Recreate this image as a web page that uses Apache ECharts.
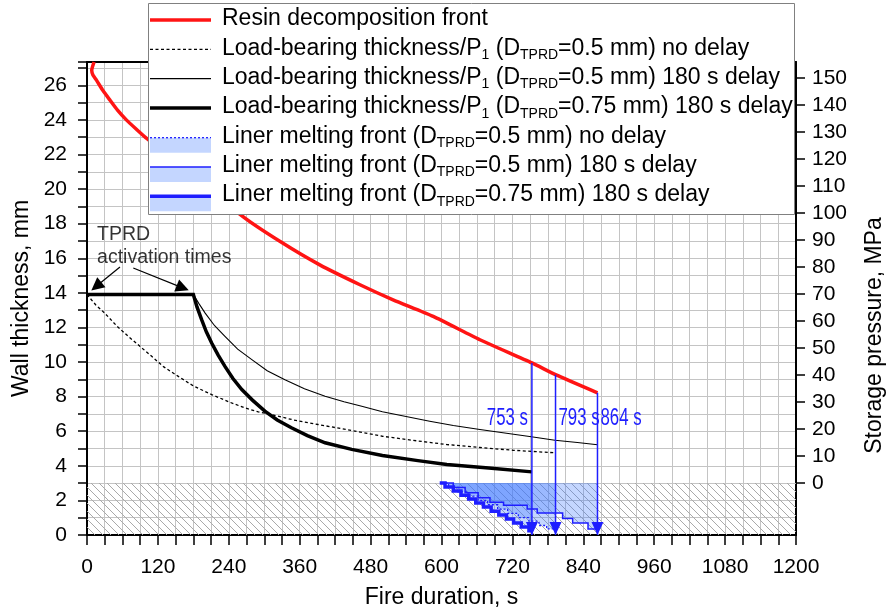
<!DOCTYPE html>
<html><head><meta charset="utf-8">
<script src="https://cdn.jsdelivr.net/npm/echarts@6/dist/echarts.min.js"></script>
<style>html,body{margin:0;padding:0;background:#fff}#c{width:891px;height:612px}</style>
</head><body><div id="c"></div>
<script>
// ---------------- data ----------------
const xLabelValues = [0,120,240,360,480,600,720,840,960,1080,1200];
const leftLabelValues = [0,2,4,6,8,10,12,14,16,18,20,22,24,26];
const rightLabelValues = [0,10,20,30,40,50,60,70,80,90,100,110,120,130,140,150];

const resinFront = [[12,27.35],[8,26.87],[10,26.6],[16,26.3],[27,25.7],[39,25.14],[52,24.55],[67,23.99],[84,23.45],[101,22.93],
  [264,18.41],[327,16.97],[394,15.62],[462,14.47],[518,13.6],[586,12.64],[665,11.29],[753,9.95],[793,9.27],[864,8.22]];

const lbNoDelay05 = [[0,13.9],[2,13.79],[15,13.3],[30,12.83],[50,12.1],[70,11.48],[90,10.9],[109.5,10.33],[130,9.72],[154.5,9.17],
  [180,8.62],[211,8.12],[240,7.7],[267,7.35],[290,7.12],[312.5,6.96],[350,6.65],[391,6.39],[450,6.03],[500,5.71],[550,5.48],
  [609,5.23],[665,5.06],[721,4.9],[760,4.82],[793,4.75]];

const lbDelay05 = [[0,13.9],[180,13.9],[190,13.35],[200,12.83],[216,12.1],[233.5,11.48],[255,10.75],[279,10.14],[305,9.5],[335,8.98],
  [368,8.45],[403,8.02],[435,7.7],[465,7.44],[500,7.13],[540,6.85],[580,6.58],[620,6.33],[665,6.1],[710,5.88],[752,5.68],
  [792,5.48],[830,5.35],[864,5.22]];

const lbDelay075 = [[0,13.9],[180,13.9],[186,13.2],[194,12.45],[202,11.75],[211,11.1],[222,10.4],[233.5,9.75],[247,9.05],[262,8.41],
  [280,7.8],[301,7.16],[322,6.65],[346,6.2],[373,5.75],[403,5.33],[448,4.95],[500,4.6],[560,4.3],[609,4.08],[680,3.88],[753,3.65]];

const linerNoDelay05 = [[600,3.0],[612,3.0],[612,2.75],[628,2.75],[628,2.5],[645,2.5],[645,2.25],[662,2.25],[662,2.0],[678,2.0],
  [678,1.75],[695,1.75],[695,1.5],[712,1.5],[712,1.25],[730,1.25],[730,1.0],[748,1.0],[748,0.8],[765,0.8],[765,0.55],
  [778,0.55],[778,0.35],[793,0.35]];

const linerDelay05 = [[600,3.0],[620,3.0],[620,2.75],[640,2.75],[640,2.45],[662,2.45],[662,2.15],[682,2.15],[682,1.9],[705,1.9],
  [705,1.72],[745,1.72],[745,1.5],[762,1.5],[762,1.27],[805,1.27],[805,0.95],[822,0.95],[822,0.7],[848,0.7],[848,0.35],[864,0.35]];

const linerDelay075 = [[597,3.0],[606,3.0],[606,2.78],[620,2.78],[620,2.55],[633,2.55],[633,2.3],[646,2.3],[646,2.08],[658,2.08],
  [658,1.85],[671,1.85],[671,1.62],[684,1.62],[684,1.38],[697,1.38],[697,1.15],[710,1.15],[710,0.92],[722,0.92],[722,0.69],
  [735,0.69],[735,0.46],[748,0.46],[748,0.25],[753,0.25]];

const failTimes = [753, 793, 864];
const failResinThickness = [9.95, 9.27, 8.22];

const hatchRange = [0, 3];         // wall thickness band (mm) that is hatched
const pressureZeroMM = 3;           // 0 MPa on the right axis corresponds to 3 mm
const mmPerMPa = 0.15607;

// annotation arrows (tail -> head) in data units
const tprdArrows = [[[55.8,15.5],[15.8,14.38]], [[78.3,15.44],[162,14.29]]];
const tprdTextAnchor = [17, 16.68];
const failLabelY = 6.72;

// ---------------- styles / layout ----------------
const FONT = 'Liberation Sans, Arial, sans-serif';
const Y_MAX = 27.35;
const BLUE = '#1e1eff';
const FILL = 'rgba(60,120,255,0.3)';

function hatchCanvas() {
  const c = document.createElement('canvas'); c.width = 8; c.height = 8;
  const g = c.getContext('2d');
  g.strokeStyle = '#a9a9a9'; g.lineWidth = 1;
  g.beginPath();
  g.moveTo(-2,-2); g.lineTo(10,10);
  g.moveTo(-2,6); g.lineTo(2,10);
  g.moveTo(6,-2); g.lineTo(10,2);
  g.stroke();
  return c;
}

function fillSeries(pts) {
  return {
    type: 'custom', coordinateSystem: 'cartesian2d', data: [pts[0]], clip: true, silent: true, z: 3,
    renderItem: function (params, api) {
      const last = pts[pts.length - 1];
      const poly = pts.concat([[last[0], hatchRange[1]]]).map(p => api.coord(p));
      return { type: 'polygon', shape: { points: poly }, style: { fill: FILL } };
    }
  };
}
function lineSeries(data, color, width, dash, z, smooth) {
  return { type: 'line', data: data, symbol: 'none', silent: true, z: z || 4, clip: true, smooth: smooth || false,
    lineStyle: { color: color, width: width, type: dash || 'solid', cap: 'butt', join: 'miter' } };
}

const series = [];
// hatched band + TPRD annotation
series.push({
  type: 'scatter', data: [tprdTextAnchor], symbolSize: 0, silent: true, z: 6,
  label: { show: true, position: 'right', distance: 0, formatter: 'TPRD\nactivation times',
    fontFamily: FONT, fontSize: 19.5, lineHeight: 23, color: '#000', align: 'left' },
  markArea: { silent: true, itemStyle: { color: { image: hatchCanvas(), repeat: 'repeat' }, opacity: 1, borderWidth: 0 },
    data: [[{ coord: [0, hatchRange[0]] }, { coord: [1200, hatchRange[1]] }]] },
  markLine: { silent: true, symbol: ['none', 'triangle'], symbolSize: 13, animation: false,
    label: { show: false }, lineStyle: { color: '#000', width: 1.2, type: 'solid' },
    data: tprdArrows.map(a => [{ coord: a[0] }, { coord: a[1] }]) }
});
series.push(fillSeries(linerNoDelay05));
series.push(fillSeries(linerDelay05));
series.push(fillSeries(linerDelay075));
series.push(lineSeries(linerNoDelay05, BLUE, 1.3, [2, 2]));
series.push(lineSeries(linerDelay05, BLUE, 1.5));
series.push(lineSeries(linerDelay075, BLUE, 3.5));
series.push(lineSeries(lbNoDelay05, '#000', 1.3, [3, 2.5]));
series.push(lineSeries(lbDelay05, '#000', 1.1));
series.push(lineSeries(lbDelay075, '#000', 3.5));
series.push(lineSeries(resinFront, '#ff1414', 3.5, null, 5, 0.2));
failTimes.forEach(function (t, i) {
  series.push({
    type: 'line', z: 6, silent: true, symbol: 'none', showSymbol: true,
    lineStyle: { color: BLUE, width: 1.5 }, itemStyle: { color: BLUE },
    data: [[t, failResinThickness[i]],
      { value: [t, 0], symbol: 'triangle', symbolSize: [12, 13], symbolRotate: 180, symbolOffset: [0, -6.5] }]
  });
});

// ---------------- legend (drawn as graphics) ----------------
const legendRows = [
  { text: '{a|Resin decomposition front}', line: ['#ff1414', 3.5, null], fill: false },
  { text: '{a|Load-bearing thickness/P}{s|1}{a| (D}{s|TPRD}{a|=0.5 mm) no delay}', line: ['#000', 1.2, [3, 2.5]], fill: false },
  { text: '{a|Load-bearing thickness/P}{s|1}{a| (D}{s|TPRD}{a|=0.5 mm) 180 s delay}', line: ['#000', 1.1, null], fill: false },
  { text: '{a|Load-bearing thickness/P}{s|1}{a| (D}{s|TPRD}{a|=0.75 mm) 180 s delay}', line: ['#000', 3.5, null], fill: false },
  { text: '{a|Liner melting front (D}{s|TPRD}{a|=0.5 mm) no delay}', line: [BLUE, 1.3, [2, 2]], fill: true },
  { text: '{a|Liner melting front (D}{s|TPRD}{a|=0.5 mm) 180 s delay}', line: [BLUE, 1.5, null], fill: true },
  { text: '{a|Liner melting front (D}{s|TPRD}{a|=0.75 mm) 180 s delay}', line: [BLUE, 3.5, null], fill: true }
];
const graphic = [{ type: 'rect', z: 100, silent: true, shape: { x: 148.5, y: 3.5, width: 646, height: 211 },
  style: { fill: '#fff', stroke: '#808080', lineWidth: 1 } }];
legendRows.forEach(function (r, i) {
  const cy = 19 + i * 29.3;
  const ly = r.fill ? cy + 1.5 : cy + 1;
  if (r.fill) graphic.push({ type: 'rect', z: 101, silent: true, shape: { x: 150, y: ly, width: 61, height: 15 }, style: { fill: FILL } });
  graphic.push({ type: 'line', z: 102, silent: true, shape: { x1: 150, y1: ly, x2: 211, y2: ly },
    style: { stroke: r.line[0], lineWidth: r.line[1], lineDash: r.line[2] || null } });
  graphic.push({ type: 'text', z: 102, silent: true, x: 222, y: cy,
    style: { text: r.text, align: 'left', verticalAlign: 'middle',
      rich: { a: { fontFamily: FONT, fontSize: 23, fill: '#000', lineHeight: 28 },
              s: { fontFamily: FONT, fontSize: 14, fill: '#000', lineHeight: 14, verticalAlign: 'bottom' } } } });
});

const axisLineStyle = { color: '#000', width: 2 };
const tickStyle = { color: '#000', width: 1.5 };
const gridLine = { show: true, lineStyle: { color: '#c4c4c4', width: 1 } };

const option = {
  animation: false,
  backgroundColor: '#fff',
  grid: { left: 87, right: 95, top: 62, bottom: 77, containLabel: false, outerBoundsMode: 'none' },
  xAxis: [{
    type: 'value', min: 0, max: 1200, interval: 30, position: 'bottom',
    axisLine: { show: true, onZero: false, lineStyle: axisLineStyle },
    axisTick: { show: true, length: 10, lineStyle: tickStyle },
    axisLabel: { fontFamily: FONT, fontSize: 21, color: '#000', margin: 22,
      formatter: v => xLabelValues.indexOf(v) >= 0 ? String(v) : '' },
    splitLine: gridLine,
    name: 'Fire duration, s', nameLocation: 'middle', nameGap: 51,
    nameTextStyle: { fontFamily: FONT, fontSize: 23, color: '#000' }
  }, {
    type: 'value', min: 0, max: 1200, position: 'top',
    axisLine: { show: true, onZero: false, lineStyle: axisLineStyle },
    axisTick: { show: false }, axisLabel: { show: false }, splitLine: { show: false }
  }],
  yAxis: [{
    type: 'value', min: 0, max: Y_MAX, interval: 1, position: 'left',
    axisLine: { show: true, onZero: false, lineStyle: axisLineStyle },
    axisTick: { show: true, length: 9, lineStyle: tickStyle },
    axisLabel: { fontFamily: FONT, fontSize: 21, color: '#000', margin: 20,
      formatter: v => leftLabelValues.indexOf(v) >= 0 ? String(v) : '' },
    splitLine: gridLine,
    name: 'Wall thickness, mm', nameLocation: 'middle', nameGap: 52,
    nameTextStyle: { fontFamily: FONT, fontSize: 23, color: '#000' }
  }, {
    type: 'value', position: 'right',
    min: -pressureZeroMM / mmPerMPa, max: (Y_MAX - pressureZeroMM) / mmPerMPa,
    axisLine: { show: true, onZero: false, lineStyle: axisLineStyle },
    axisTick: { show: true, length: 9, lineStyle: tickStyle, customValues: rightLabelValues },
    axisLabel: { fontFamily: FONT, fontSize: 21, color: '#000', margin: 16, customValues: rightLabelValues,
      formatter: v => String(Math.round(v)) },
    splitLine: { show: false },
    name: 'Storage pressure, MPa', nameLocation: 'middle', nameGap: 67,
    nameTextStyle: { fontFamily: FONT, fontSize: 23, color: '#000', padding: [0, 74, 0, 0] }
  }],
  series: series,
  graphic: graphic
};

const chart = echarts.init(document.getElementById('c'));
chart.setOption(option);

// failure-time labels: positioned through the chart's own coordinate conversion, drawn condensed like the reference
const failLabels = failTimes.map(function (t, i) {
  const p = chart.convertToPixel({ xAxisIndex: 0, yAxisIndex: 0 }, [t, failLabelY]);
  const left = i === 0;
  return { type: 'text', z: 50, silent: true, x: left ? p[0] - 4 : p[0] + 3, y: p[1], scaleX: 0.73,
    style: { text: t + ' s', fontFamily: FONT, fontSize: 23, fill: BLUE, align: left ? 'right' : 'left', verticalAlign: 'middle' } };
});
chart.setOption({ graphic: graphic.concat(failLabels) });
</script>
</body></html>
